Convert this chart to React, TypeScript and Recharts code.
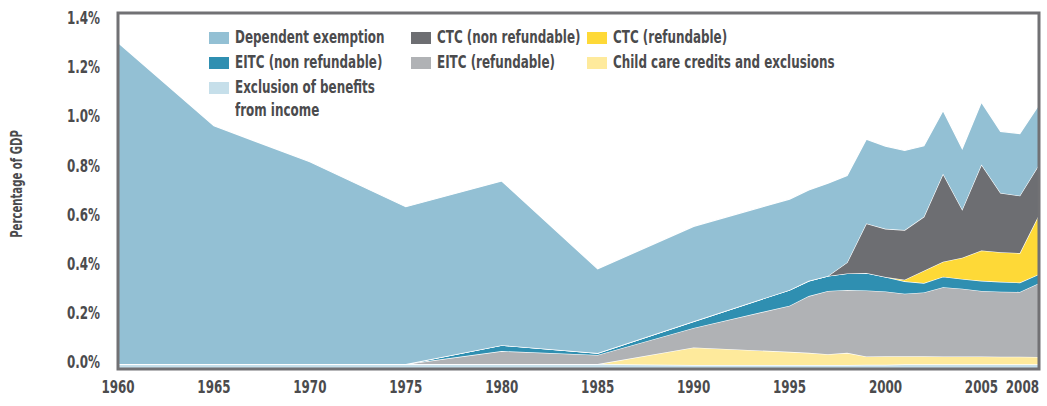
import React from "react";
import { AreaChart, Area, XAxis, YAxis, ReferenceArea } from "recharts";

const FONT = '"Liberation Sans Narrow", "Arial Narrow", "DejaVu Sans Condensed", sans-serif';
const TEXT = "#4b4b4d";
// no condensed face is installed, so squeeze the glyphs horizontally
const SQUEEZE = 0.78;

// years with a data point (5-year steps early on, annual from 1995)
const years = [
  1960, 1965, 1970, 1975, 1980, 1985, 1990,
  1995, 1996, 1997, 1998, 1999, 2000,
  2001, 2002, 2003, 2004, 2005, 2006, 2007, 2008,
];

// percent of GDP, stacked bottom to top
const exclusion = [
  0.02, 0.02, 0.02, 0.02, 0.02, 0.02, 0.016,
  0.016, 0.016, 0.016, 0.016, 0.017, 0.017,
  0.019, 0.019, 0.019, 0.019, 0.019, 0.019, 0.019, 0.019,
];
const childCare = [
  0, 0, 0, 0, 0, 0, 0.072,
  0.054, 0.05, 0.044, 0.05, 0.034, 0.035,
  0.033, 0.033, 0.032, 0.032, 0.032, 0.031, 0.031, 0.03,
];
const eitcRefundable = [
  0, 0, 0, 0, 0.053, 0.037, 0.079,
  0.188, 0.231, 0.258, 0.256, 0.269, 0.264,
  0.255, 0.26, 0.282, 0.276, 0.267, 0.265, 0.264, 0.3,
];
const eitcNonRefundable = [
  0, 0, 0, 0, 0.024, 0.008, 0.027,
  0.064, 0.062, 0.061, 0.067, 0.071, 0.059,
  0.05, 0.038, 0.043, 0.04, 0.041, 0.04, 0.038, 0.037,
];
const ctcRefundable = [
  0, 0, 0, 0, 0, 0, 0,
  0, 0, 0, 0, 0, 0,
  0.007, 0.05, 0.061, 0.086, 0.124, 0.121, 0.12, 0.242,
];
const ctcNonRefundable = [
  0, 0, 0, 0, 0, 0, 0,
  0, 0, 0, 0.045, 0.202, 0.196,
  0.202, 0.22, 0.358, 0.197, 0.35, 0.241, 0.234, 0.204,
];
const dependentExemption = [
  1.31, 0.971, 0.824, 0.641, 0.669, 0.343, 0.387,
  0.37, 0.37, 0.378, 0.354, 0.343, 0.337,
  0.324, 0.289, 0.258, 0.248, 0.254, 0.251, 0.253, 0.245,
];

const tickYears = [1960, 1965, 1970, 1975, 1980, 1985, 1990, 1995, 2000, 2005, 2008];
const yTicks = [0, 0.2, 0.4, 0.6, 0.8, 1.0, 1.2, 1.4];

const series = [
  { key: "exclusion", name: "Exclusion of benefits from income", values: exclusion, color: "#c6dfea" },
  { key: "childCare", name: "Child care credits and exclusions", values: childCare, color: "#feea9c" },
  { key: "eitcRef", name: "EITC (refundable)", values: eitcRefundable, color: "#b0b2b5" },
  { key: "eitcNon", name: "EITC (non refundable)", values: eitcNonRefundable, color: "#2f8fb1" },
  { key: "ctcRef", name: "CTC (refundable)", values: ctcRefundable, color: "#fed937" },
  { key: "ctcNon", name: "CTC (non refundable)", values: ctcNonRefundable, color: "#6d6e72" },
  { key: "depEx", name: "Dependent exemption", values: dependentExemption, color: "#93c0d4" },
];

// legend reads row by row, three columns
const legendOrder = ["depEx", "ctcNon", "ctcRef", "eitcNon", "eitcRef", "childCare", "exclusion"];

const data = years.map((year, i) => {
  const row: Record<string, number> = { year };
  series.forEach((s) => {
    row[s.key] = s.values[i];
  });
  return row;
});

const YTick = ({ x, y, payload }: any) => (
  <g transform={`translate(${x},${y - 1})`}>
    <text transform={`scale(${SQUEEZE},1)`} textAnchor="end" fill={TEXT} fontSize={17} fontWeight={700} fontFamily={FONT}>
      {`${Number(payload.value).toFixed(1)}%`}
    </text>
  </g>
);

const XTick = ({ x, y, payload, index }: any) => (
  <g transform={`translate(${x},${y})`}>
    <text
      transform={`scale(${SQUEEZE},1)`}
      dy="0.71em"
      textAnchor={index === tickYears.length - 1 ? "end" : "middle"}
      fill={TEXT}
      fontSize={17}
      fontWeight={700}
      fontFamily={FONT}
    >
      {String(payload.value)}
    </text>
  </g>
);

function ChartLegend() {
  return (
    <div
      style={{
        position: "absolute",
        left: 209,
        top: 26,
        display: "grid",
        gridTemplateColumns: "202px 176px 260px",
        rowGap: 2,
        fontFamily: FONT,
        fontWeight: 700,
        fontSize: 17,
        lineHeight: "23px",
        color: TEXT,
      }}
    >
      {legendOrder.map((k) => {
        const s = series.find((d) => d.key === k)!;
        return (
          <div key={k} style={{ display: "flex", alignItems: "flex-start", minWidth: 0 }}>
            <span
              style={{ width: 20, height: 12, marginTop: 6, marginRight: 6, background: s.color, flex: "none" }}
            />
            <span
              style={{
                display: "inline-block",
                transform: `scaleX(${SQUEEZE})`,
                transformOrigin: "left top",
                whiteSpace: k === "exclusion" ? "normal" : "nowrap",
                width: k === "exclusion" ? 200 : undefined,
                flex: "none",
              }}
            >
              {s.name}
            </span>
          </div>
        );
      })}
    </div>
  );
}

export default function App() {
  return (
    <div style={{ position: "absolute", left: 0, top: 0, width: 1047, height: 406, background: "#fff", overflow: "hidden" }}>
      <AreaChart width={1047} height={406} data={data} margin={{ top: 13, right: 8, bottom: 0, left: 0 }}>
        <XAxis
          dataKey="year"
          type="number"
          domain={[1960, 2008]}
          ticks={tickYears}
          interval={0}
          height={37}
          tickSize={0}
          tickMargin={12}
          axisLine={false}
          tickLine={false}
          tick={<XTick />}
        />
        <YAxis
          type="number"
          domain={[0, 1.45]}
          ticks={yTicks}
          interval={0}
          width={118}
          tickSize={0}
          tickMargin={18}
          axisLine={false}
          tickLine={false}
          tick={<YTick />}
        />
        {series.map((s) => (
          <Area
            key={s.key}
            type="linear"
            dataKey={s.key}
            name={s.name}
            stackId="a"
            fill={s.color}
            fillOpacity={1}
            stroke="#ffffff"
            strokeWidth={1.2}
            dot={false}
            activeDot={false}
            isAnimationActive={false}
          />
        ))}
        <ReferenceArea x1={1960} x2={2008} y1={0} y2={1.45} fill="none" stroke="#717174" strokeWidth={3} />
      </AreaChart>
      <ChartLegend />
      <div
        style={{
          position: "absolute",
          left: 17,
          top: 184,
          transform: "translate(-50%, -50%) rotate(-90deg) scaleX(0.75)",
          whiteSpace: "nowrap",
          fontFamily: FONT,
          fontWeight: 700,
          fontSize: 15,
          color: TEXT,
        }}
      >
        Percentage of GDP
      </div>
    </div>
  );
}
